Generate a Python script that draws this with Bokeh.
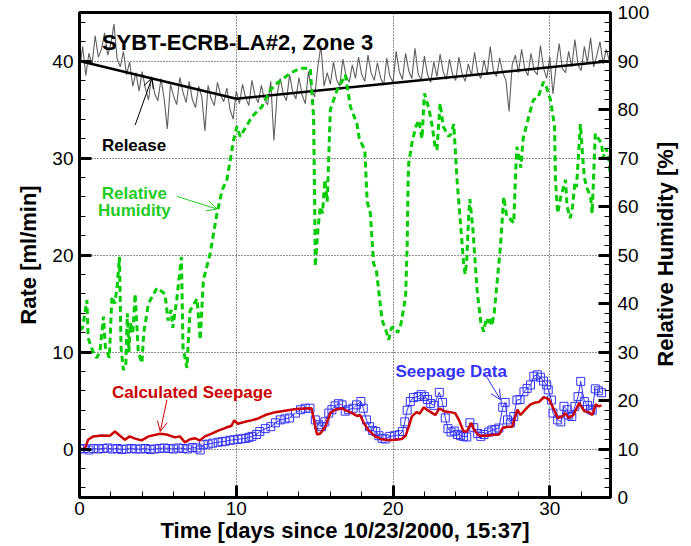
import numpy as np
from bokeh.plotting import figure
from bokeh.models import Range1d, LinearAxis, FixedTicker, Label, Arrow, OpenHead
from bokeh.embed import file_html
from bokeh.resources import INLINE

FONT = "Liberation Sans"

# Measured release rate [ml/min], sampled every 0.2 day
release_step = 0.2
release_rate = [
    39.0, 41.5, 38.5, 40.8, 39.6, 42.6, 40.4, 41.2, 42.9, 40.6,
    41.8, 43.8, 40.2, 39.4, 41.0, 38.6, 39.9, 37.4, 38.8, 36.9,
    38.9, 37.2, 36.0, 38.4, 36.6, 35.9, 38.2, 36.1, 33.0, 37.6,
    36.4, 35.5, 38.3, 36.8, 35.7, 37.9, 36.0, 35.2, 37.4, 36.3,
    32.8, 37.5, 36.1, 35.4, 37.8, 36.5, 35.8, 37.2, 35.0, 34.0,
    36.9, 35.6, 37.6, 36.2, 35.4, 38.0, 36.4, 35.7, 37.5, 36.0,
    35.5, 37.9, 31.8, 36.5, 38.2, 36.6, 35.9, 38.6, 36.8, 36.1,
    38.3, 36.5, 35.6, 38.9, 37.0, 36.3, 39.4, 41.6, 37.4, 38.8,
    37.6, 39.9, 38.1, 37.4, 40.2, 38.5, 37.8, 39.6, 38.2, 40.4,
    38.6, 37.9, 40.6, 38.8, 38.0, 39.8, 38.3, 37.5, 40.3, 38.4,
    37.8, 41.0, 38.9, 38.1, 40.8, 39.0, 38.2, 41.3, 38.7, 38.0,
    40.5, 38.6, 37.8, 39.9, 38.4, 40.7, 38.9, 38.1, 40.2, 38.6,
    38.0, 40.4, 38.7, 37.9, 39.7, 38.5, 40.9, 38.8, 38.2, 40.1,
    38.6, 41.5, 39.0, 38.4, 40.3, 38.8, 38.0, 34.8, 39.6, 40.6,
    38.8, 41.2, 39.2, 38.5, 40.8, 39.0, 38.6, 41.6, 39.3, 38.2,
    40.4, 36.6, 39.5, 41.8, 39.2, 38.8, 41.0, 39.4, 42.2, 39.6,
    39.0, 41.5, 39.8, 42.4, 39.4, 40.6, 42.0, 39.7, 41.2, 40.0,
    40.5,
]
release_days = np.arange(len(release_rate)) * release_step

# Piecewise-linear release trend
trend_days = [0.0, 10.0, 33.9]
trend_rate = [40.0, 36.1, 40.0]

# Relative humidity [%]
rh_days = [
    0.0, 0.2, 0.47, 0.55, 0.7, 0.9, 1.1, 1.3, 1.53, 1.65, 1.9, 2.07, 2.25, 2.4,
    2.55, 2.65, 2.8, 2.95, 3.05, 3.15, 3.25, 3.4, 3.55, 3.75, 3.98, 4.1, 4.4,
    4.94, 5.45, 5.65, 5.85, 5.95, 6.2, 6.5, 6.6, 6.85, 7.05, 7.5, 7.7, 7.9,
    8.34, 8.77, 9.1, 9.4, 9.83, 10.04, 10.25, 11.0, 11.64, 12.17, 12.6, 13.45,
    14.08, 14.72, 14.93, 15.0, 15.04, 15.2, 15.36, 15.5, 15.65, 15.8, 16.0,
    16.43, 16.96, 17.28, 17.7, 17.85, 18.2, 18.35, 18.55, 18.76, 18.95, 19.3,
    19.6, 19.72, 19.9, 20.1, 20.3, 20.5, 20.8, 20.9, 20.96, 21.0, 21.2, 21.45,
    21.66, 21.75, 21.85, 22.0, 22.3, 22.5, 22.7, 22.8, 23.0, 23.2, 23.55, 23.7,
    23.87, 24.0, 24.08, 24.3, 24.5, 24.6, 24.7, 24.82, 24.9, 25.1, 25.36, 25.6,
    25.78, 25.95, 26.1, 26.2, 26.3, 26.45, 26.85, 27.06, 27.25, 27.45, 27.7,
    27.8, 27.9, 28.05, 28.15, 28.3, 28.65, 28.95, 29.25, 29.6, 29.8, 30.04,
    30.3, 30.36, 30.5, 30.7, 31.0, 31.1, 31.3, 31.45, 31.6, 31.7, 31.95, 32.1,
    32.2, 32.35, 32.6, 32.7, 32.9, 33.1, 33.3, 33.4, 33.6, 33.75, 33.9,
]
rh_values = [
    34.5, 35.0, 40.7, 33.0, 31.4, 29.8, 28.8, 30.0, 37.3, 31.0, 28.8, 41.4, 40.0, 43.5,
    49.6, 31.0, 26.3, 27.0, 38.0, 30.0, 36.0, 34.0, 42.0, 30.0, 27.7, 34.0, 40.0,
    43.2, 42.0, 36.5, 38.7, 35.0, 40.7, 49.6, 31.0, 26.7, 38.5, 41.0, 32.5, 44.8,
    50.4, 58.6, 63.4, 65.5, 73.7, 76.5, 74.4, 78.5, 80.6, 84.0, 85.4, 87.5,
    88.5, 88.5, 78.5, 61.0, 47.6, 55.0, 60.0, 58.6, 65.5, 61.0, 80.0,
    84.0, 87.1, 80.6, 77.0, 74.0, 71.6, 61.0, 58.6, 48.3, 46.5, 36.6,
    33.9, 32.5, 35.0, 35.2, 34.0, 35.7, 41.4, 52.0, 65.5, 68.9, 73.0, 76.5,
    77.8, 75.5, 74.0, 83.3, 80.0, 76.5, 72.0, 71.7, 81.3, 76.5, 74.4, 75.0,
    77.0, 70.0, 65.5, 56.6, 48.3, 46.0, 49.0, 57.9, 61.5, 55.0, 42.8, 36.0,
    34.2, 37.0, 36.0, 37.0, 35.4, 38.0, 51.7, 62.0, 58.0, 57.5, 56.6,
    65.5, 72.3, 70.0, 68.0, 74.0, 78.5, 82.0, 82.5, 85.7, 84.5, 82.0,
    76.5, 65.5, 58.6, 62.0, 65.5, 60.0, 57.6, 60.0, 65.0, 64.0, 77.0, 70.0,
    66.0, 64.0, 62.0, 58.6, 75.0, 74.0, 73.0, 70.0, 72.0, 70.0, 65.0,
]

# Calculated seepage rate [ml/min]
calc_days = [
    0.0, 0.34, 0.55, 0.87, 1.4, 1.94, 2.26, 2.58, 2.9, 3.2, 3.5, 3.96, 4.4, 5.13,
    5.55, 6.1, 6.4, 6.73, 7.05, 7.37, 7.68, 8.0, 8.43, 8.85, 9.28, 9.7, 9.87,
    10.1, 10.55, 10.97, 11.4, 11.85, 12.5, 13.3, 13.95, 14.8, 15.15, 15.36,
    15.68, 16.0, 16.3, 16.75, 16.95, 17.4, 17.7, 17.9, 18.1, 18.4, 18.8, 19.2,
    19.72, 20.15, 20.55, 20.8, 21.0, 21.2, 21.5, 21.7, 21.95, 22.3, 22.7, 22.95,
    23.25, 23.65, 23.96, 24.2, 24.5, 24.7, 25.0, 25.15, 25.5, 25.9, 26.3, 26.77,
    26.98, 27.3, 27.6, 27.93, 28.14, 28.45, 28.77, 29.1, 29.3, 29.63, 29.95,
    30.27, 30.5, 30.8, 31.0, 31.2, 31.5, 31.87, 32.2, 32.5, 32.7, 32.93, 33.1, 33.3,
]
calc_rate = [
    0.0, 0.0, 0.96, 1.3, 1.4, 1.37, 1.8, 1.37, 0.96, 1.3, 1.1, 0.89, 1.3, 1.58,
    1.5, 1.2, 1.3, 0.68, 1.0, 1.1, 0.89, 1.3, 1.58, 1.9, 2.16, 2.4, 2.95,
    2.6, 2.8, 2.95, 3.15, 3.5, 3.8, 4.0, 4.15, 4.2, 1.5, 1.6,
    2.3, 3.7, 4.05, 4.2, 4.0, 3.7, 3.4, 3.5, 2.8, 2.0, 1.37, 1.03,
    0.9, 0.96, 1.03, 1.37, 2.3, 3.37, 3.8, 3.65, 4.3, 3.9, 3.5, 4.2,
    3.9, 3.8, 3.7, 3.0, 1.8, 1.8, 2.7, 2.0, 1.37, 1.37, 1.45, 1.5,
    2.16, 2.3, 2.3, 4.05, 3.5, 4.1, 4.6, 4.8, 4.84, 5.36, 5.1,
    4.05, 3.2, 3.37, 3.7, 3.2, 3.5, 4.74, 3.9, 3.8, 3.5, 4.6, 4.4, 4.5,
]

# Measured seepage rate [ml/min]
seep_days = [
    0.0, 0.3, 0.6, 0.9, 1.2, 1.5, 1.8, 2.1, 2.4, 2.7, 3.0, 3.3, 3.6, 3.9, 4.2,
    4.5, 4.8, 5.1, 5.4, 5.7, 6.0, 6.3, 6.6, 6.9, 7.2, 7.5, 7.7,
    7.9, 8.2, 8.5, 8.85, 9.1, 9.3, 9.6, 9.85, 10.1, 10.35, 10.6, 10.8, 11.0,
    11.3, 11.5, 11.85, 12.2, 12.5, 12.8, 13.1, 13.4, 13.77, 14.1, 14.4, 14.7,
    15.04, 15.25, 15.45, 15.65, 15.9, 16.1, 16.3, 16.53, 16.75, 16.95, 17.15,
    17.45, 17.67, 17.95, 18.1, 18.3, 18.5, 18.7, 18.9, 19.1, 19.3, 19.5, 19.8,
    20.1, 20.4, 20.6, 20.75, 20.9, 21.1, 21.3, 21.6, 21.8, 22.0, 22.2, 22.4,
    22.6, 22.95, 23.15, 23.33, 23.5, 23.7, 23.9, 24.1, 24.3, 24.5, 24.7, 24.9,
    25.15, 25.4, 25.6, 25.8, 26.1, 26.3, 26.5, 26.75, 27.0, 27.15, 27.3, 27.5,
    27.7, 27.9, 28.1, 28.35, 28.55, 28.77, 28.98, 29.2, 29.4, 29.6, 29.8, 29.9,
    30.1, 30.2, 30.5, 30.7, 30.9, 31.1, 31.2, 31.4, 31.6, 31.8, 31.97, 32.2,
    32.4, 32.6, 32.7, 32.9, 33.1, 33.3,
]
seep_rate = [
    0.0, 0.05, -0.1, 0.05, 0.0, 0.05, 0.1, 0.0, 0.05, -0.05, 0.0, 0.05, 0.0, 0.0, 0.05,
    -0.05, 0.0, 0.05, 0.1, 0.05, 0.0, 0.1, 0.05, 0.0, 0.15, 0.1, -0.1,
    0.44, 0.5, 0.6, 0.7, 0.75, 0.8, 0.9, 0.95, 1.0, 1.05, 1.1, 1.2, 1.3,
    1.5, 1.8, 2.1, 2.3, 2.7, 3.0, 3.1, 3.2, 3.7, 4.05, 4.2, 4.2,
    3.0, 2.5, 2.3, 2.8, 3.7, 4.05, 4.45, 4.67, 4.55, 3.9, 4.05,
    4.2, 4.55, 4.9, 4.2, 3.0, 2.3, 1.9, 1.8, 1.37, 1.1, 1.03, 1.3,
    1.37, 1.47, 1.8, 2.8, 4.0, 4.9, 5.3, 5.4, 5.6, 5.4, 5.1, 4.7,
    4.5, 5.84, 4.8, 3.2, 2.1, 1.75, 1.85, 1.5, 1.37, 1.3, 1.24, 2.7,
    2.2, 1.6, 1.3, 1.5, 1.75, 1.95, 2.0, 2.16, 4.3, 4.8, 3.0, 2.7,
    3.35, 5.05, 5.1, 5.9, 6.25, 6.6, 7.5, 7.65, 7.4, 7.0, 6.6, 6.1,
    5.05, 3.7, 3.0, 2.8, 4.4, 4.05, 3.5, 3.35, 4.4, 5.4, 6.97, 4.9,
    4.5, 4.1, 4.0, 6.2, 6.0, 5.8,
]

rate_ticks = [0, 10, 20, 30, 40]
rate_minor = list(range(-4, 46, 2))
day_ticks = [0, 10, 20, 30]
day_minor = list(range(0, 35, 2))
rh_ticks = list(range(0, 101, 10))
rh_minor = list(range(0, 101, 2))

GREEN = "#00cc00"
RED = "#cc0000"
BLUE = "#3333ff"

p = figure(width=691, height=546, output_backend="svg", toolbar_location=None,
           x_range=Range1d(0, 33.87), y_range=Range1d(-5, 45),
           min_border_left=79, min_border_right=81, min_border_top=12,
           min_border_bottom=49, background_fill_color="white",
           border_fill_color="white")
p.outline_line_color = "black"
p.outline_line_width = 3
p.extra_y_ranges = {"rh": Range1d(0, 100)}

def style_axis(ax, ticks, minor):
    ax.ticker = FixedTicker(ticks=ticks, minor_ticks=minor)
    ax.axis_line_width = 3
    ax.axis_line_color = "black"
    ax.major_tick_in = 12
    ax.major_tick_out = 0
    ax.major_tick_line_width = 3
    ax.minor_tick_in = 6
    ax.minor_tick_out = 0
    ax.minor_tick_line_width = 1
    ax.major_label_text_font = FONT
    ax.major_label_text_font_size = "19px"
    ax.major_label_text_color = "black"
    ax.axis_label_text_font = FONT
    ax.axis_label_text_font_size = "22px"
    ax.axis_label_text_font_style = "bold"
    ax.axis_label_text_color = "black"

p.xaxis.axis_label = "Time [days since 10/23/2000, 15:37]"
style_axis(p.xaxis[0], day_ticks, day_minor)
p.xaxis.major_label_standoff = 4
p.xaxis.axis_label_standoff = 0

p.yaxis.axis_label = "Rate [ml/min]"
style_axis(p.yaxis[0], rate_ticks, rate_minor)
p.yaxis.major_label_standoff = 6
p.yaxis.axis_label_standoff = 8

rh_axis = LinearAxis(y_range_name="rh")
style_axis(rh_axis, rh_ticks, rh_minor)
rh_axis.major_label_standoff = 7
p.add_layout(rh_axis, "right")

# Right-hand axis title, reading upward beside the humidity scale
rh_title = Label(x=37.38, y=20.08, text="Relative Humidity [%]", text_font=FONT,
                 text_font_size="22px", text_font_style="bold",
                 text_color="black", text_align="center",
                 text_baseline="middle", angle=np.pi / 2)
p.add_layout(rh_title, "right")

p.xgrid.ticker = FixedTicker(ticks=[10, 20, 30])
p.ygrid.ticker = FixedTicker(ticks=rate_ticks)
for g in (p.xgrid[0], p.ygrid[0]):
    g.grid_line_color = "#222222"
    g.grid_line_dash = "1 2"
    g.grid_line_width = 1

# Release rate: raw record and trend
p.line(release_days, release_rate, line_color="#5f5f5f", line_width=1.1)
p.line(trend_days, trend_rate, line_color="black", line_width=2.5)

# Relative humidity on the right-hand axis
p.line(rh_days, rh_values, y_range_name="rh", line_color=GREEN,
       line_width=3, line_dash="6 4")

# Seepage: measured data and calculated curve
p.line(seep_days, seep_rate, line_color=BLUE, line_width=1)
p.scatter(seep_days, seep_rate, marker="square", size=8, fill_color=None,
          line_color=BLUE, line_width=1)
p.line(calc_days, calc_rate, line_color=RED, line_width=2.5)

def add_label(x, y, text, color, size="17px", align="left"):
    p.add_layout(Label(x=x, y=y, text=text, text_font=FONT, text_font_size=size,
                       text_font_style="bold", text_color=color,
                       text_align=align, text_baseline="alphabetic"))

def add_arrow(x0, y0, x1, y1, color):
    p.add_layout(Arrow(end=OpenHead(size=10, line_color=color, line_width=1),
                       x_start=x0, y_start=y0, x_end=x1, y_end=y1,
                       line_color=color, line_width=1))

add_label(1.43, 41.9, "SYBT-ECRB-LA#2, Zone 3", "black", size="22px")
add_label(1.43, 31.27, "Release", "black")
add_arrow(3.55, 33.4, 4.62, 38.25, "black")
add_label(3.5, 26.32, "Relative", "#22cc22", align="center")
add_label(3.5, 24.57, "Humidity", "#22cc22", align="center")
add_arrow(6.22, 26.04, 8.77, 24.74, "#22cc22")
add_label(2.07, 5.84, "Calculated Seepage", RED)
add_arrow(5.58, 5.08, 5.15, 1.81, RED)
add_label(20.15, 8.0, "Seepage Data", BLUE)
add_arrow(25.89, 7.67, 26.85, 5.08, BLUE)

open("out.html", "w").write(file_html(p, INLINE))
